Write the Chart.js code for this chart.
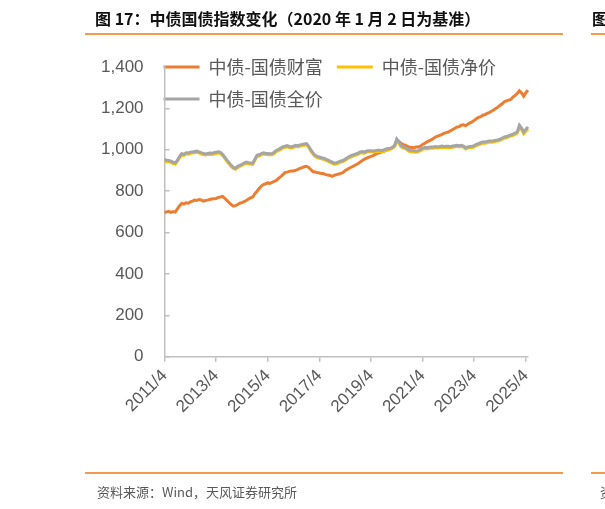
<!DOCTYPE html>
<html>
<head>
<meta charset="utf-8">
<script src="https://cdn.jsdelivr.net/npm/chart.js@4"></script>
<style>
  body { margin: 0; background: #fff; }
  #wrap { position: relative; width: 605px; height: 509px; overflow: hidden; font-family: "Noto Sans CJK SC", sans-serif; }
  #chartBox { position: absolute; left: 0; top: 0; width: 605px; height: 509px; }
  .title { position: absolute; top: 7px; font-size: 16px; line-height: 22px; font-weight: bold; color: #111; white-space: nowrap; }
  .rule { position: absolute; height: 2px; background: #f29b4c; }
  .source { position: absolute; top: 483px; font-size: 13px; line-height: 18px; color: #595959; white-space: nowrap; }
</style>
</head>
<body>
<div id="wrap">
  <div id="chartBox"><canvas id="lineCanvas"></canvas></div>
  <div class="title" style="left:95px">图 17：中债国债指数变化（2020 年 1 月 2 日为基准）</div>
  <div class="title" style="left:592px">图</div>
  <div class="rule" style="left:85px; width:478px; top:33px"></div>
  <div class="rule" style="left:591px; width:20px; top:33px"></div>
  <div class="rule" style="left:85px; width:478px; top:472px"></div>
  <div class="rule" style="left:591px; width:20px; top:472px"></div>
  <div class="source" style="left:97px">资料来源：Wind，天风证券研究所</div>
  <div class="source" style="left:600px">资</div>
</div>
<script>
// Indices monthly, 2011/4 -> 2025/5
const seriesNames = ["中债-国债财富", "中债-国债净价", "中债-国债全价"];

const wealth = [
  697, 700, 703, 698, 702, 699, 715, 730, 741, 738, 744, 742,
  748, 752, 757, 755, 760, 758, 752, 755, 757, 760, 762, 764,
  765, 770, 772, 775, 766, 755, 745, 735, 728, 730, 736, 742,
  745, 750, 755, 762, 768, 772, 788, 800, 813, 825, 832, 836,
  840, 838, 842, 848, 852, 862, 870, 880, 890, 892, 896, 898,
  898, 901, 905, 910, 914, 918, 920, 915, 905, 895, 893, 890,
  888, 885, 884, 880, 878, 876, 872, 877, 880, 883, 886, 890,
  900, 905, 912, 917, 922, 928, 934, 941, 948, 955, 960, 965,
  968, 972, 978, 983, 985, 990, 993, 998, 1000, 1005, 1010, 1020,
  1046, 1040, 1031, 1025, 1022, 1016, 1012, 1011, 1010, 1014, 1014, 1018,
  1026, 1032, 1038, 1043, 1048, 1055, 1062, 1066, 1070, 1074, 1080, 1083,
  1086, 1092, 1098, 1104, 1110, 1112, 1119, 1121, 1116, 1124, 1130, 1135,
  1142, 1150, 1157, 1160, 1167, 1170, 1176, 1180, 1186, 1192, 1199, 1206,
  1215, 1222, 1232, 1236, 1240, 1243, 1255, 1262, 1272, 1285, 1275, 1259, 1276, 1288
];

const netPrice = [
  947, 943, 944, 939, 933, 931, 946, 962, 975, 973, 981, 979,
  982, 985, 986, 988, 985, 980, 977, 975, 977, 978, 977, 980,
  982, 985, 982, 972, 960, 944, 932, 920, 910, 906, 914, 920,
  924, 931, 935, 932, 931, 929, 949, 968, 970, 976, 980, 977,
  976, 976, 976, 982, 993, 996, 1002, 1009, 1012, 1014, 1011, 1008,
  1012, 1017, 1014, 1018, 1021, 1022, 1024, 1013, 994, 979, 968, 962,
  959, 957, 954, 949, 945, 939, 934, 930, 932, 936, 941, 943,
  949, 957, 962, 967, 971, 974, 978, 985, 986, 984, 989, 990,
  990, 989, 990, 992, 993, 990, 994, 999, 1000, 1002, 1007, 1016,
  1040, 1033, 1014, 1008, 1006, 998, 992, 991, 989, 988, 991, 996,
  1002, 1006, 1004, 1006, 1008, 1008, 1010, 1009, 1010, 1012, 1011, 1011,
  1011, 1010, 1012, 1014, 1017, 1014, 1016, 1013, 1004, 1008, 1011, 1011,
  1014, 1021, 1024, 1028, 1033, 1032, 1034, 1037, 1037, 1038, 1041, 1042,
  1046, 1051, 1056, 1058, 1063, 1066, 1070, 1075, 1080, 1108, 1098, 1078, 1090, 1100
];

const fullPrice = [
  953, 950, 948, 945, 940, 936, 950, 968, 982, 978, 986, 985,
  988, 990, 992, 994, 990, 986, 983, 980, 982, 984, 983, 986,
  988, 990, 988, 978, 965, 950, 938, 925, 915, 912, 920, 925,
  930, 936, 941, 938, 936, 935, 955, 973, 976, 982, 985, 983,
  982, 981, 982, 988, 998, 1002, 1008, 1014, 1018, 1020, 1016, 1014,
  1018, 1022, 1020, 1024, 1026, 1028, 1030, 1018, 1000, 985, 973, 968,
  965, 962, 960, 955, 950, 945, 940, 935, 938, 942, 946, 949,
  955, 962, 968, 973, 976, 980, 984, 990, 992, 990, 994, 996,
  996, 994, 996, 998, 998, 996, 1000, 1004, 1006, 1008, 1012, 1022,
  1052, 1040, 1020, 1014, 1011, 1004, 998, 996, 995, 994, 996, 1002,
  1008, 1011, 1010, 1012, 1013, 1014, 1016, 1014, 1016, 1018, 1016, 1017,
  1017, 1015, 1018, 1020, 1022, 1020, 1022, 1018, 1010, 1014, 1016, 1017,
  1020, 1026, 1030, 1034, 1038, 1038, 1040, 1042, 1043, 1044, 1046, 1048,
  1052, 1056, 1062, 1064, 1068, 1072, 1076, 1080, 1086, 1119, 1105, 1086, 1098, 1111
];

const yTicks = [0, 200, 400, 600, 800, 1000, 1200, 1400];
const labelEvery = 24; // one x label every two years

let months = [];
for (let i = 0; i < wealth.length; i++) {
  let t = 2011 * 12 + 3 + i;
  months.push(Math.floor(t / 12) + "/" + (t % 12 + 1));
}

const axisColor = "#bfbfbf";
const textColor = "#595959";

// legend drawn over the plot, like the excel original
const floatLegend = {
  id: "floatLegend",
  beforeLayout(chart) {
    const lg = chart.legend;
    if (lg && !lg._floating) {
      const fit = lg.fit;
      lg.fit = function () { fit.call(this); this.height = 0; };
      lg._floating = true;
    }
  },
  afterLayout(chart) {
    const lg = chart.legend;
    const area = chart.chartArea;
    lg.left = area.left - 15;
    lg.right = area.right;
    lg.top = area.top - 23;
    lg.bottom = area.top + 60;
  }
};

const lineChart = new Chart(document.getElementById("lineCanvas"), {
  type: "line",
  data: {
    labels: months,
    datasets: [
      {
        label: seriesNames[0],
        data: wealth,
        borderColor: "#ed7d31",
        backgroundColor: "#ed7d31",
        borderWidth: 3,
        pointRadius: 0,
        order: 3
      },
      {
        label: seriesNames[1],
        data: netPrice,
        borderColor: "#ffc000",
        backgroundColor: "#ffc000",
        borderWidth: 3,
        pointRadius: 0,
        order: 2
      },
      {
        label: seriesNames[2],
        data: fullPrice,
        borderColor: "#a5a5a5",
        backgroundColor: "#a5a5a5",
        borderWidth: 3,
        pointRadius: 0,
        order: 1
      }
    ]
  },
  options: {
    responsive: true,
    maintainAspectRatio: false,
    animation: false,
    layout: { padding: { left: 75, right: 77, top: 67, bottom: 88 } },
    scales: {
      x: {
        type: "category",
        afterBuildTicks: (axis) => {
          axis.ticks = axis.ticks.filter(t => t.value % labelEvery === 0);
        },
        grid: { display: true, drawOnChartArea: false, drawTicks: true, tickLength: 5, color: axisColor, lineWidth: 1.5 },
        border: { color: axisColor, width: 1.5 },
        ticks: {
          autoSkip: false,
          maxRotation: 45,
          minRotation: 45,
          padding: 4,
          color: textColor,
          font: { family: "Liberation Sans", size: 17 }
        }
      },
      y: {
        min: 0,
        max: 1400,
        afterBuildTicks: (axis) => {
          axis.ticks = yTicks.map(v => ({ value: v }));
        },
        grid: { display: true, drawOnChartArea: false, drawTicks: true, tickLength: -5, color: axisColor, lineWidth: 1.5 },
        border: { color: axisColor, width: 1.5 },
        ticks: {
          padding: 26,
          color: textColor,
          font: { family: "Liberation Sans", size: 17 },
          callback: (v) => v.toLocaleString("en-US")
        }
      }
    },
    plugins: {
      tooltip: { enabled: false },
      legend: {
        position: "top",
        align: "start",
        labels: {
          usePointStyle: true,
          pointStyle: "line",
          pointStyleWidth: 36,
          padding: 14,
          color: textColor,
          font: { family: "Noto Sans CJK SC", size: 18 },
          sort: (a, b) => a.datasetIndex - b.datasetIndex
        }
      }
    }
  },
  plugins: [floatLegend]
});
</script>
</body>
</html>
